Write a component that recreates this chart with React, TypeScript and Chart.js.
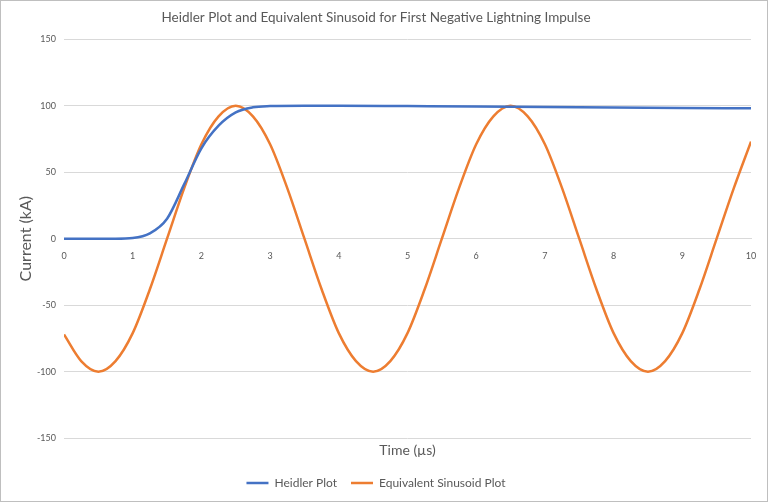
import React, { useEffect, useRef } from "react";
import { Chart, registerables } from "chart.js";

Chart.register(...registerables);

const TITLE = "Heidler Plot and Equivalent Sinusoid for First Negative Lightning Impulse";
const X_TITLE = "Time (µs)";
const Y_TITLE = "Current (kA)";

const heidlerTime = [0, 0.25, 0.5, 0.75, 1, 1.25, 1.5, 1.75, 2, 2.25, 2.5, 2.75, 3, 3.5, 4, 5, 6, 7, 8, 9, 10];
const heidlerCurrent = [0, 0, 0, 0, 0.5, 4, 15, 41, 68, 85, 95, 98.8, 99.7, 100, 100, 99.7, 99.4, 99, 98.7, 98.3, 98];

const sineTime = [0, 0.25, 0.5, 0.75, 1, 1.25, 1.5, 1.75, 2, 2.25, 2.5, 2.75, 3, 3.25, 3.5, 3.75, 4, 4.25, 4.5, 4.75, 5, 5.25, 5.5, 5.75, 6, 6.25, 6.5, 6.75, 7, 7.25, 7.5, 7.75, 8, 8.25, 8.5, 8.75, 9, 9.25, 9.5, 9.75, 10];
const sineCurrent = [-72, -92, -100, -92, -71, -38, 0, 38, 71, 92, 100, 92, 71, 38, 0, -38, -71, -92, -100, -92, -71, -38, 0, 38, 71, 92, 100, 92, 71, 38, 0, -38, -71, -92, -100, -92, -71, -38, 0, 38, 73];

const yTicks = [-150, -100, -50, 0, 50, 100, 150];
const xTicks = [0, 1, 2, 3, 4, 5, 6, 7, 8, 9, 10];

const FONT = "Lato, 'Open Sans', sans-serif";
const TEXT = "#595959";
const GRID = "#d9d9d9";

export default function App() {
  const ref = useRef<HTMLCanvasElement | null>(null);
  useEffect(() => {
    document.body.style.margin = "0";
    const ctx = ref.current!;
    const chart = new Chart(ctx, {
      type: "line",
      data: {
        datasets: [
          {
            label: "Heidler Plot",
            data: heidlerTime.map((t, i) => ({ x: t, y: heidlerCurrent[i] })),
            borderColor: "#4472C4",
            backgroundColor: "#4472C4",
            borderWidth: 2.5,
            pointRadius: 0,
            pointStyle: "line",
            cubicInterpolationMode: "monotone",
            xAxisID: "x",
          },
          {
            label: "Equivalent Sinusoid Plot",
            data: sineTime.map((t, i) => ({ x: t, y: sineCurrent[i] })),
            borderColor: "#ED7D31",
            backgroundColor: "#ED7D31",
            borderWidth: 2.5,
            pointRadius: 0,
            pointStyle: "line",
            cubicInterpolationMode: "monotone",
            xAxisID: "x",
          },
        ],
      },
      options: {
        animation: false,
        responsive: false,
        maintainAspectRatio: false,
        layout: { padding: { left: 0, right: 16, top: 0, bottom: 2 } },
        plugins: {
          title: {
            display: true,
            text: TITLE,
            color: TEXT,
            font: { family: FONT, size: 13.5, weight: "normal" },
            padding: { top: 9, bottom: 13 },
          },
          legend: {
            position: "bottom",
            labels: {
              color: TEXT,
              font: { family: FONT, size: 12 },
              usePointStyle: true,
              pointStyle: "line",
              pointStyleWidth: 22,
              boxHeight: 8,
              padding: 14,
            },
          },
          tooltip: { enabled: false },
        },
        scales: {
          x: {
            type: "linear",
            position: { y: 0 } as any,
            min: 0,
            max: 10,
            afterBuildTicks: (s: any) => {
              s.ticks = xTicks.map((v) => ({ value: v }));
            },
            ticks: { color: TEXT, font: { family: FONT, size: 9 }, padding: 4, maxRotation: 0 },
            grid: { display: false },
            border: { display: true, color: GRID, width: 1 },
          },
          xb: {
            type: "linear",
            position: "bottom",
            min: 0,
            max: 10,
            ticks: { display: false },
            grid: { display: false, drawTicks: false },
            border: { display: false },
            title: {
              display: true,
              text: X_TITLE,
              color: TEXT,
              font: { family: FONT, size: 14 },
              padding: { top: 4, bottom: 4 },
            },
          },
          y: {
            type: "linear",
            min: -150,
            max: 150,
            afterBuildTicks: (s: any) => {
              s.ticks = yTicks.map((v) => ({ value: v }));
            },
            afterFit: (s: any) => {
              s.width = 63;
            },
            ticks: { color: TEXT, font: { family: FONT, size: 9 }, padding: 8 },
            grid: { color: GRID, lineWidth: 1, drawTicks: false },
            border: { display: false },
            title: {
              display: true,
              text: Y_TITLE,
              color: TEXT,
              font: { family: FONT, size: 16 },
              padding: { top: 15, bottom: 4 },
            },
          },
        },
      },
    });
    return () => chart.destroy();
  }, []);
  return (
    <div style={{ width: 768, height: 502, boxSizing: "border-box", border: "1px solid #bfbfbf", background: "#fff" }}>
      <canvas ref={ref} width={766} height={500} style={{ display: "block" }} />
    </div>
  );
}
